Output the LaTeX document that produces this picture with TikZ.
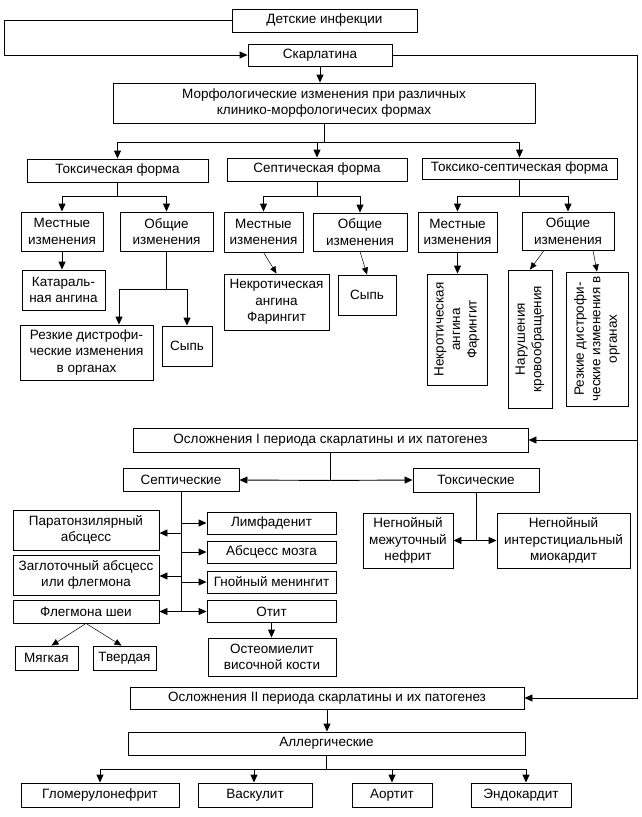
\documentclass[tikz,border=0pt]{standalone}
\usepackage{fontspec}
\setmainfont{Liberation Sans}
\usetikzlibrary{arrows.meta}
\tikzset{
  box/.style={draw, inner sep=1pt, align=center, font=\fontsize{13.5}{16.5}\selectfont},
  sz/.style 2 args={minimum width=#1pt, minimum height=#2pt},
  arr/.style={-{Triangle[length=8pt,width=7pt]}},
  darr/.style={-{Triangle[length=7pt,width=6pt]}, line width=0.5pt}
}
\begin{document}
\begin{tikzpicture}[x=1pt,y=-1pt,line width=0.9pt]
\useasboundingbox (0,0) rectangle (642,817);
% Начало
\node[box,sz={185}{23}] (det) at (324.5,20.5) {Детские инфекции};
\node[box,sz={144}{22}] (skar) at (320,55) {Скарлатина};
\node[box,sz={422}{40}] (morf) at (324,103) {Морфологические изменения при различных\\клинико-морфологичесих формах};
\coordinate (lft) at (4,55);
\coordinate (rgt) at (637,55);
\draw[arr] (det.west) -| (lft) -- (skar.west);
\draw[arr] (skar.south) -- (skar.south |- morf.north);
% Формы
\node[box,sz={181}{23}] (tox) at (117.5,170.5) {Токсическая форма};
\node[box,sz={180}{23}] (sep) at (317,169.5) {Септическая форма};
\node[box,sz={195}{21}] (ts) at (519.5,168.5) {Токсико-септическая форма};
\draw (morf.south) -- ++(0,19) coordinate (mb);
\foreach \n in {tox,sep,ts} \draw[arr] (mb) -| (\n.north);
% Токсическая форма
\node[box,sz={82}{39}] (toxM) at (62,231.5) {Местные\\изменения};
\node[box,sz={93}{39}] (toxO) at (166.5,231.5) {Общие\\изменения};
\node[box,sz={83}{40}] (kat) at (63.5,290) {Катараль-\\ная ангина};
\node[box,sz={133}{55}] (toxRez) at (86.5,352.5) {Резкие дистрофи-\\ческие изменения\\в органах};
\node[box,sz={50}{40}] (toxSyp) at (187,346) {Сыпь};
\draw (tox.south) -- ++(0,14) coordinate (tb);
\draw[arr] (tb) -| (toxM.north);
\draw[arr] (tb) -| (toxO.north);
\draw[arr] (toxM.south) -- (toxM.south |- kat.north);
\draw (toxO.south) -- ++(0,38) coordinate (ob);
\draw[arr] (ob) -| ([xshift=32.5pt]toxRez.north);
\draw[arr] (ob) -| (toxSyp.north);
% Септическая форма
\node[box,sz={79}{40}] (sepM) at (263.5,232) {Местные\\изменения};
\node[box,sz={94}{38}] (sepO) at (360,232) {Общие\\изменения};
\node[box,sz={105}{56}] (sepNek) at (276.5,302) {Некротическая\\ангина\\Фарингит};
\node[box,sz={58}{40}] (sepSyp) at (367,295) {Сыпь};
\draw (sep.south) -- ++(0,15) coordinate (sb);
\draw[arr] (sb) -| (sepM.north);
\draw[arr] (sb) -| (sepO.north);
\draw[darr] (sepM.south) -- (sepNek.north);
\draw[darr] (sepO.south) -- (sepSyp.north);
% Токсико-септическая форма
\node[box,sz={79}{40}] (tsM) at (457.5,232) {Местные\\изменения};
\node[box,sz={92}{38}] (tsO) at (568,231) {Общие\\изменения};
\node[box,rotate=90,sz={111}{60}] (tsNek) at (457,329.5) {Некротическая\\ангина\\Фарингит};
\node[box,rotate=90,sz={138}{44}] (tsNar) at (530,339) {Нарушения\\кровообращения};
\node[box,rotate=90,sz={134}{62}] (tsRez) at (597,339) {Резкие дистрофи-\\ческие изменения в\\органах};
\draw (ts.south) -- ++(0,17) coordinate (tsb);
\draw[arr] (tsb) -| (tsM.north);
\draw[arr] (tsb) -| (tsO.north);
\draw[arr] (tsM.south) -- (tsM.south |- tsNek.east);
\draw[darr] ([xshift=-24pt]tsO.south) -- (tsNar.east);
\draw[darr] ([xshift=25pt]tsO.south) -- (tsRez.east);
% Осложнения I периода
\node[box,sz={395}{24}] (osl1) at (330.5,440) {Осложнения I периода скарлатины и их патогенез};
\draw[arr] (rgt |- osl1.east) -- (osl1.east);
\node[box,sz={116}{23}] (sepK) at (181,480) {Септические};
\node[box,sz={126}{24}] (toxK) at (476,480) {Токсические};
\draw (osl1.south) -- ++(0,28) coordinate (o1b);
\draw[arr] (o1b) -- (sepK.east);
\draw[arr] (o1b) -- (toxK.west);
% Септические
\node[box,sz={146}{40}] (para) at (86,530) {Паратонзилярный\\абсцесс};
\node[box,sz={146}{40}] (zagl) at (86,575) {Заглоточный абсцесс\\или флегмона};
\node[box,sz={146}{23}] (flegm) at (86,611.5) {Флегмона шеи};
\node[box,sz={63}{24}] (myag) at (46.5,658) {Мягкая};
\node[box,sz={63}{24}] (tverd) at (124.5,658) {Твердая};
\node[box,sz={129}{22}] (limf) at (271.5,523) {Лимфаденит};
\node[box,sz={129}{22}] (absM) at (271.5,552) {Абсцесс мозга};
\node[box,sz={129}{22}] (men) at (271.5,582) {Гнойный менингит};
\node[box,sz={129}{22}] (otit) at (271.5,611.5) {Отит};
\node[box,sz={128}{38}] (osteo) at (272,657) {Остеомиелит\\височной кости};
\draw (sepK.south) -- (sepK.south |- otit.west);
\foreach \n in {limf,absM,men,otit} \draw[arr] (sepK.south |- \n.west) -- (\n.west);
\foreach \n/\s in {para/-3,zagl/-1,flegm/0} {
  \coordinate (e) at ([yshift=\s pt]\n.east);
  \draw[arr] (sepK.south |- e) -- (e);
}
\draw[arr] (otit.south) -- (otit.south |- osteo.north);
\draw[darr] (flegm.south) -- ([xshift=5pt]myag.north);
\draw[darr] (flegm.south) -- ([xshift=-3pt]tverd.north);
% Токсические
\node[box,sz={90}{55}] (nefr) at (408,540.5) {Негнойный\\межуточный\\нефрит};
\node[box,sz={133}{55}] (miok) at (563.5,540.5) {Негнойный\\интерстициальный\\миокардит};
\draw (toxK.south) -- (toxK.south |- nefr.east) coordinate (kb);
\draw[arr] (kb) -- (nefr.east);
\draw[arr] (kb) -- (miok.west);
% Осложнения II периода
\node[box,sz={394}{22}] (osl2) at (327,698) {Осложнения II периода скарлатины и их патогенез};
\draw[arr] (skar.east) -- (rgt) |- (osl2.east);
\node[box,sz={397}{23}] (allerg) at (326.5,743.5) {Аллергические};
\draw[arr] (osl2.south) -- (osl2.south |- allerg.north);
\node[box,sz={158}{24}] (glom) at (100,795) {Гломерулонефрит};
\node[box,sz={114}{24}] (vask) at (255,795) {Васкулит};
\node[box,sz={80}{24}] (aort) at (392,795) {Аортит};
\node[box,sz={100}{24}] (endo) at (521,795) {Эндокардит};
\draw (allerg.south) -- ++(0,14) coordinate (ab);
\foreach \n/\s in {glom/0,vask/-1,aort/0,endo/5} \draw[arr] (ab) -| ([xshift=\s pt]\n.north);
\end{tikzpicture}
\end{document}
